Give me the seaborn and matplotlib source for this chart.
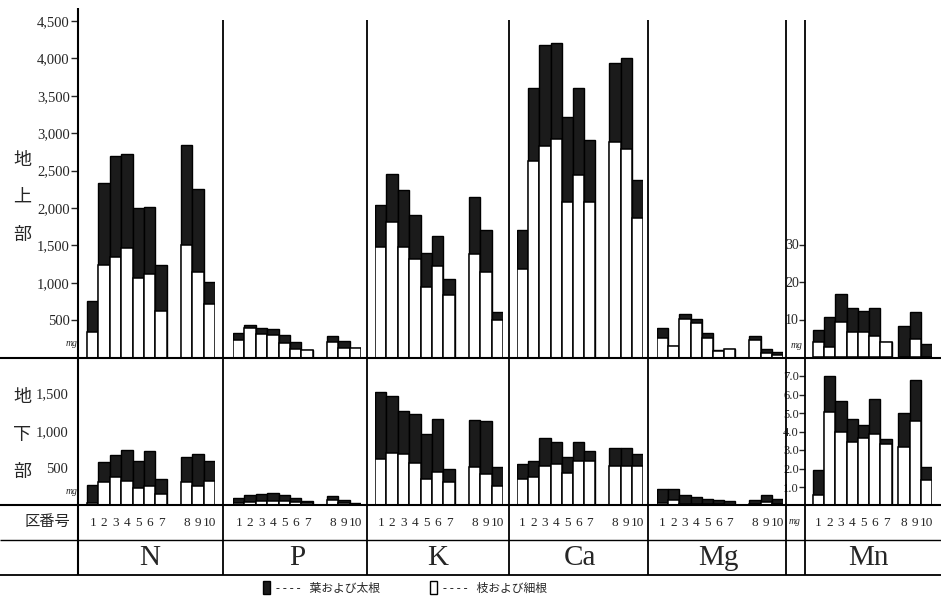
import numpy as np
import matplotlib
matplotlib.use("Agg")
import matplotlib.pyplot as plt
from matplotlib.patches import Patch
import seaborn as sns

# ---- data (mg) ----
elements = ["N", "P", "K", "Ca", "Mg", "Mn"]
plot_no = ["1", "2", "3", "4", "5", "6", "7", "8", "9", "10"]

# 地上部 : 枝および細根 (white) / 葉および太根 (dark)
n_top_white = [340, 1240, 1350, 1460, 1070, 1120, 620, 1510, 1140, 710]
n_top_dark = [420, 1090, 1340, 1260, 930, 890, 620, 1330, 1120, 300]
p_top_white = [240, 400, 310, 300, 200, 120, 95, 210, 130, 130]
p_top_dark = [90, 30, 90, 85, 95, 85, 5, 75, 95, 0]
k_top_white = [1475, 1815, 1475, 1320, 945, 1220, 830, 1390, 1145, 495]
k_top_dark = [560, 635, 765, 585, 455, 410, 225, 755, 560, 120]
ca_top_white = [1185, 2635, 2835, 2925, 2085, 2435, 2085, 2880, 2785, 1860]
ca_top_dark = [525, 975, 1345, 1285, 1130, 1175, 820, 1060, 1225, 510]
mg_top_white = [265, 150, 510, 465, 265, 85, 115, 240, 65, 35]
mg_top_dark = [125, 0, 75, 55, 65, 20, 0, 50, 50, 40]
mn_top_white = [4.1, 2.7, 9.4, 6.7, 6.6, 5.6, 4.1, 0, 4.7, 0]
mn_top_dark = [3.1, 7.9, 7.4, 6.5, 5.8, 7.6, 0, 8.3, 7.4, 3.5]

# 地下部
n_bot_white = [30, 320, 380, 330, 240, 255, 155, 310, 255, 330]
n_bot_dark = [240, 260, 290, 415, 360, 470, 200, 335, 440, 260]
p_bot_white = [35, 45, 55, 55, 55, 45, 30, 75, 35, 10]
p_bot_dark = [70, 90, 100, 110, 80, 60, 35, 50, 40, 20]
k_bot_white = [620, 700, 690, 565, 355, 455, 310, 510, 420, 265]
k_bot_dark = [905, 760, 580, 660, 600, 705, 180, 630, 710, 245]
ca_bot_white = [355, 380, 530, 555, 435, 590, 590, 535, 535, 535]
ca_bot_dark = [200, 220, 370, 300, 220, 260, 135, 240, 240, 155]
mg_bot_white = [35, 80, 25, 25, 25, 25, 10, 15, 45, 25]
mg_bot_dark = [190, 145, 110, 85, 65, 55, 55, 60, 100, 65]
mn_bot_white = [0.55, 5.05, 4.0, 3.45, 3.65, 3.85, 3.3, 3.15, 4.55, 1.4]
mn_bot_dark = [1.35, 1.95, 1.65, 1.25, 0.7, 1.9, 0.3, 1.85, 2.25, 0.7]

top_white = [n_top_white, p_top_white, k_top_white, ca_top_white, mg_top_white, mn_top_white]
top_dark = [n_top_dark, p_top_dark, k_top_dark, ca_top_dark, mg_top_dark, mn_top_dark]
bot_white = [n_bot_white, p_bot_white, k_bot_white, ca_bot_white, mg_bot_white, mn_bot_white]
bot_dark = [n_bot_dark, p_bot_dark, k_bot_dark, ca_bot_dark, mg_bot_dark, mn_bot_dark]

mg_ticks_top = [500, 1000, 1500, 2000, 2500, 3000, 3500, 4000, 4500]
mg_ticks_bot = [500, 1000, 1500]
mn_ticks_top = [10, 20, 30]
mn_ticks_bot = [1, 2, 3, 4, 5, 6, 7]

# ---- layout (pixels) ----
W, H = 941, 604
DARK = "#1b1b1b"
bar_px = [(87, 215), (233, 361), (375, 503), (517, 643), (657, 783), (813, 932)]
ax_left_px = [78, 233, 375, 517, 657, 805]
gaps = [1.25, 1.25, 1.25, 1.25, 1.25, 0.6]

sns.set_theme(style="white")
plt.rcParams["font.family"] = ["Liberation Serif", "Noto Sans CJK JP"]
plt.rcParams["axes.facecolor"] = "none"

fig = plt.figure(figsize=(W / 100, H / 100), dpi=100)
fig.patch.set_facecolor("white")


def box(x0, y0, x1, y1):
    return [x0 / W, 1 - y1 / H, (x1 - x0) / W, (y1 - y0) / H]


def draw_bars(ax, pos, white, dark):
    total = [w + d for w, d in zip(white, dark)]
    sns.barplot(x=pos, y=total, native_scale=True, width=1.0, color=DARK,
                edgecolor="black", linewidth=1.0, saturation=1, errorbar=None, ax=ax)
    sns.barplot(x=pos, y=white, native_scale=True, width=1.0, color="white",
                edgecolor="black", linewidth=1.1, saturation=1, errorbar=None, ax=ax)
    ax.set_xlabel("")
    ax.set_ylabel("")
    for s in ax.spines.values():
        s.set_visible(False)


for i, el in enumerate(elements):
    b0, b1 = bar_px[i]
    g = gaps[i]
    pos = np.array([k if k < 7 else k + g for k in range(10)])
    unit = (b1 - b0) / (10 + g)
    x_lo = -0.5 - (b0 - ax_left_px[i]) / unit
    x_hi = 9.5 + g

    # upper row (地上部)
    if el == "Mn":
        ax_t = fig.add_axes(box(ax_left_px[i], 22, b1, 357))
        ax_t.set_ylim(0, 335 / 3.75)
    else:
        ax_t = fig.add_axes(box(ax_left_px[i], 8, b1, 357.5))
        ax_t.set_ylim(0, 349.5 / 0.07475)
    draw_bars(ax_t, pos, top_white[i], top_dark[i])
    ax_t.set_xlim(x_lo, x_hi)
    ax_t.set_xticks([])

    # lower row (地下部)
    ax_b = fig.add_axes(box(ax_left_px[i], 357.5, b1, 505.5))
    if el == "Mn":
        ax_b.set_ylim(0, 148 / 18.5)
    else:
        ax_b.set_ylim(0, 148 / 0.0747)
    draw_bars(ax_b, pos, bot_white[i], bot_dark[i])
    ax_b.set_xlim(x_lo, x_hi)
    ax_b.set_xticks(pos)
    ax_b.set_xticklabels(plot_no, fontsize=9.5)
    ax_b.tick_params(axis="x", length=0, pad=8)

    if el == "N":
        ax_t.set_yticks(mg_ticks_top)
        ax_t.set_yticklabels([f"{v:,}" for v in mg_ticks_top], fontsize=10.5)
        ax_t.tick_params(axis="y", direction="out", length=5, width=1, pad=1, left=True)
        ax_b.set_yticks(mg_ticks_bot)
        ax_b.set_yticklabels([f"{v:,}" for v in mg_ticks_bot], fontsize=10.5)
        ax_b.tick_params(axis="y", length=0, pad=7, left=True)
    elif el == "Mn":
        ax_t.set_yticks(mn_ticks_top)
        ax_t.set_yticklabels([str(v) for v in mn_ticks_top], fontsize=10)
        ax_t.tick_params(axis="y", direction="out", length=4, width=1, pad=0.5, left=True)
        ax_b.set_yticks(mn_ticks_bot)
        ax_b.set_yticklabels([f"{v:.1f}" for v in mn_ticks_bot], fontsize=9)
        ax_b.tick_params(axis="y", direction="out", length=4, width=1, pad=0.5, left=True)
    else:
        ax_t.set_yticks([])
        ax_b.set_yticks([])

# ---- table frame, labels ----
ov = fig.add_axes([0, 0, 1, 1])
ov.set_xlim(0, W)
ov.set_ylim(H, 0)
ov.axis("off")
ov.patch.set_alpha(0)

ov.hlines([357.5, 505], 0, W, color="black", lw=1.5)
ov.hlines(540, 0, W, color="black", lw=1.0)
ov.hlines(575, 0, W, color="black", lw=1.3)
ov.vlines(78, 8, 575, color="black", lw=1.5)
ov.vlines([223, 367, 509, 648, 786, 805], 20, 575, color="black", lw=1.3)

col_centres = [150, 297, 438, 580, 718, 868]
for x, el in zip(col_centres, elements):
    ov.text(x, 558, el, fontsize=21, ha="center", va="center")

for y, ch in zip([160, 197, 235], ["地", "上", "部"]):
    ov.text(22, y, ch, fontsize=13, ha="center", va="center", family="Noto Sans CJK JP")
for y, ch in zip([397, 435, 472], ["地", "下", "部"]):
    ov.text(22, y, ch, fontsize=13, ha="center", va="center", family="Noto Sans CJK JP")
ov.text(47, 521, "区番号", fontsize=11, ha="center", va="center", family="Noto Sans CJK JP")

for x, y in [(72, 343), (72, 492), (797, 345), (795, 521)]:
    ov.text(x, y, "mg", fontsize=7, style="italic", ha="center", va="center")

handles = [Patch(facecolor=DARK, edgecolor="black"), Patch(facecolor="white", edgecolor="black")]
fig.legend(handles, ["- - - -   葉および太根", "- - - -   枝および細根"], loc="center",
           bbox_to_anchor=(405 / W, 1 - 588 / H), ncol=2, frameon=False, fontsize=8.5,
           handlelength=0.6, handleheight=1.3, handletextpad=0.5, columnspacing=4.3)

fig.savefig("out.png", dpi=100)
